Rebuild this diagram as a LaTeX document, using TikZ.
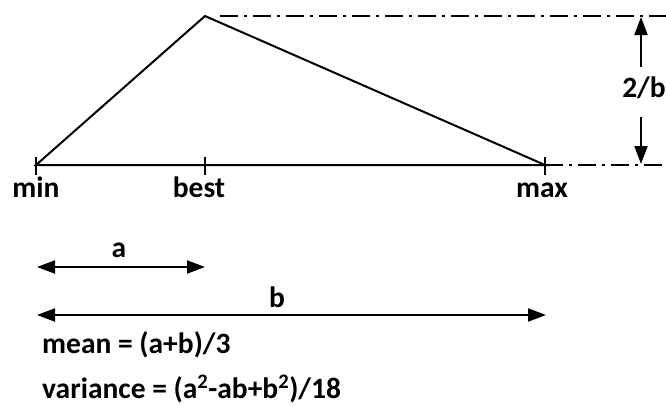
\documentclass[tikz,border=0pt]{standalone}
\usepackage{fontspec}
\setmainfont{Carlito}
\usetikzlibrary{arrows.meta,positioning}
\tikzset{
  baseLine/.style={line width=2pt, draw=black, line join=miter},
  guideLine/.style={line width=1.6pt, draw=black, dash pattern=on 18pt off 6pt on 3pt off 6pt},
  spanArrow/.style={{Triangle[length=18pt,width=13pt]}-{Triangle[length=18pt,width=13pt]}, line width=2pt},
  oneArrow/.style={-{Triangle[length=18pt,width=13pt]}, line width=2pt},
  bigLabel/.style={font=\fontsize{29.5}{34}\selectfont\bfseries, inner sep=0pt, anchor=base},
  formula/.style={font=\fontsize{29.5}{34}\selectfont\bfseries, inner sep=0pt, anchor=base west}
}
\begin{document}
\begin{tikzpicture}[x=1pt, y=-1pt]
  \useasboundingbox (0,0) rectangle (666,405);

  % points of the triangle
  \coordinate (minPt) at (36,165);
  \coordinate (bestPt) at (205,165);
  \coordinate (maxPt) at (545,165);
  \coordinate (peak) at (205,16);

  \draw[baseLine] (minPt) -- (peak) -- (maxPt) -- cycle;
  \foreach \p in {minPt,bestPt,maxPt}
    \draw[baseLine] ([yshift=8pt]\p) -- ([yshift=-10pt]\p);

  \node[bigLabel] (minLab) at (36,197) {min};
  \node[bigLabel] (bestLab) at (199,197) {best};
  \node[bigLabel] (maxLab) at (542,197) {max};

  % height guides
  \coordinate (topEnd) at (666,16);
  \coordinate (botEnd) at (666,165);
  \draw[guideLine] ([xshift=15pt]peak) -- (topEnd);
  \draw[guideLine] (maxPt) -- (botEnd);

  \coordinate (hTop) at (641,17);
  \coordinate (hBot) at (641,164);
  \node[bigLabel] (heightLab) at (644,97) {2/b};
  \draw[oneArrow] ([yshift=9pt]hTop |- heightLab.north) -- (hTop);
  \draw[oneArrow] ([yshift=-18pt]hBot |- heightLab.south) -- (hBot);

  % widths
  \coordinate (aLeft) at (37,267);
  \coordinate (aRight) at (205,267);
  \coordinate (bLeft) at (37,315);
  \coordinate (bRight) at (546,315);
  \draw[spanArrow] (aLeft) -- (aRight);
  \draw[spanArrow] (bLeft) -- (bRight);
  \node[bigLabel] (aLab) at (119,257) {a};
  \node[bigLabel] (bLab) at (277,307) {b};

  \node[formula] (meanLab) at (42,353) {mean = (a+b)/3};
  \node[formula] (varLab) at (42,398) {variance = (a\textsuperscript{2}-ab+b\textsuperscript{2})/18};
\end{tikzpicture}
\end{document}
